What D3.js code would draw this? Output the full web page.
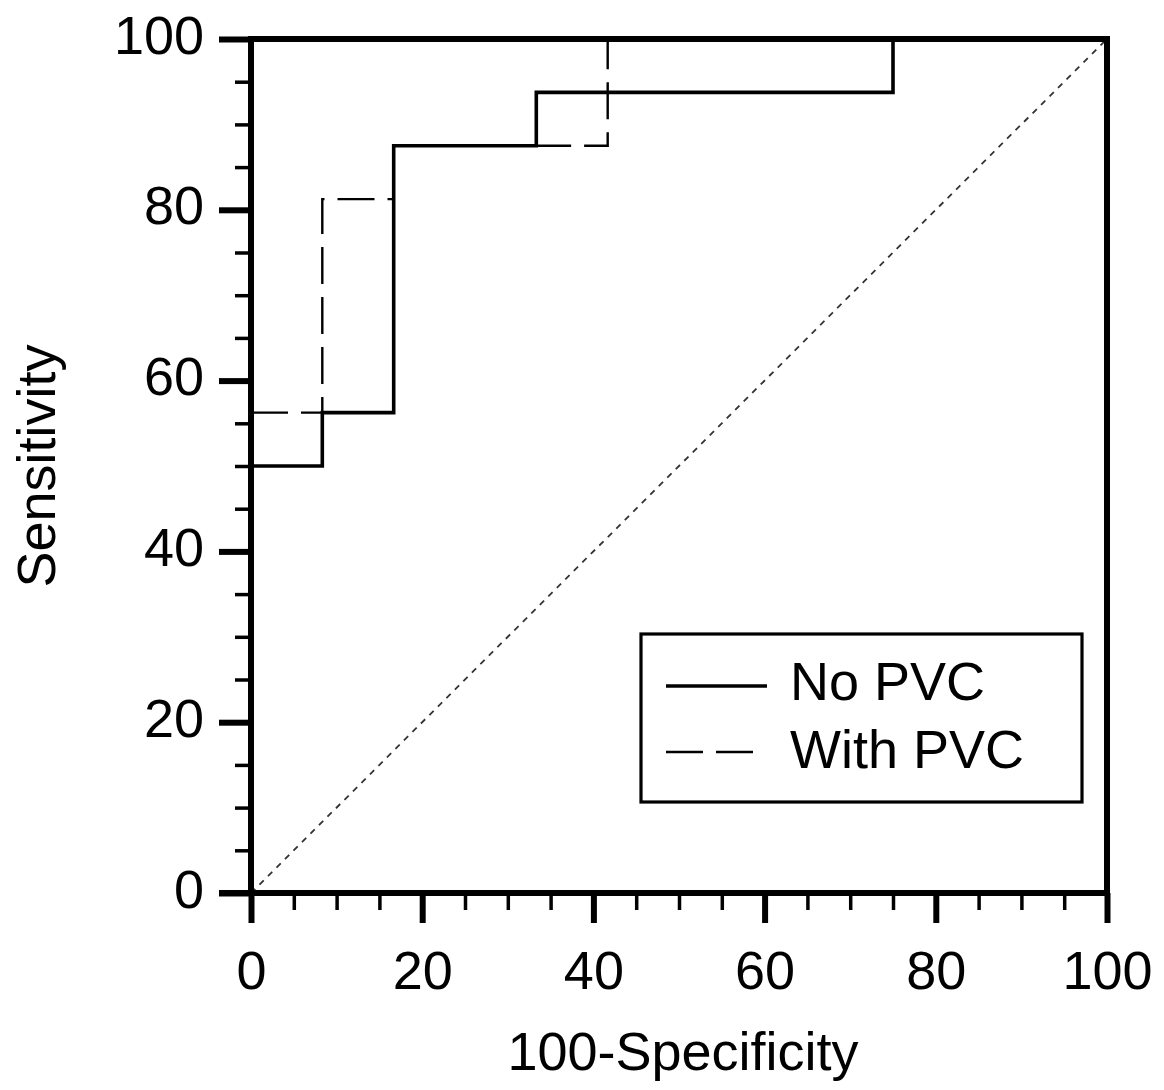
<!DOCTYPE html>
<html>
<head>
<meta charset="utf-8">
<script src="https://cdn.jsdelivr.net/npm/d3@7"></script>
<style>
  html, body { margin: 0; padding: 0; background: #fff; }
  svg { display: block; }
  text { font-family: "Liberation Sans", Arial, sans-serif; fill: #000; }
</style>
</head>
<body>
<svg id="chart" width="1164" height="1090"></svg>
<script>
// ---- Data ----
const seriesNames = ["No PVC", "With PVC"];
const noPvcX = [0, 8.33, 16.67, 33.33, 75, 100];
const noPvcY = [50, 56.25, 87.5, 93.75, 100, 100];
const withPvcX = [0, 8.33, 16.67, 41.67, 100];
const withPvcY = [56.25, 81.25, 87.5, 100, 100];
const majorTicks = [0, 20, 40, 60, 80, 100];
const minorTicks = [5, 10, 15, 25, 30, 35, 45, 50, 55, 65, 70, 75, 85, 90, 95];
const xTitle = "100-Specificity";
const yTitle = "Sensitivity";

// ---- Layout ----
const svg = d3.select("#chart");
const L = 251, R = 1107, T = 39, B = 893;
const x = d3.scaleLinear().domain([0, 100]).range([L, R]);
const y = d3.scaleLinear().domain([0, 100]).range([B, T]);
const FS = 54;

// diagonal reference
svg.append("line")
  .attr("x1", x(0)).attr("y1", y(0)).attr("x2", x(100)).attr("y2", y(100))
  .attr("stroke", "#333").attr("stroke-width", 1.8).attr("stroke-dasharray", "6,6");

// series
const line = d3.line().x(d => x(d[0])).y(d => y(d[1])).curve(d3.curveStepAfter);
const noPvc = noPvcX.map((v, i) => [v, noPvcY[i]]);
const withPvc = withPvcX.map((v, i) => [v, withPvcY[i]]);

svg.append("path").datum(withPvc).attr("d", line)
  .attr("fill", "none").attr("stroke", "#000").attr("stroke-width", 2.4)
  .attr("stroke-dasharray", "37,13");
svg.append("path").datum(noPvc).attr("d", line)
  .attr("fill", "none").attr("stroke", "#000").attr("stroke-width", 3.6);

// frame: top and right
svg.append("line").attr("x1", L).attr("x2", R + 3).attr("y1", T).attr("y2", T)
  .attr("stroke", "#000").attr("stroke-width", 6);
svg.append("line").attr("x1", R).attr("x2", R).attr("y1", T).attr("y2", B)
  .attr("stroke", "#000").attr("stroke-width", 6);

// y axis
const yAxisMajor = d3.axisLeft(y).tickValues(majorTicks).tickSize(32).tickPadding(14).tickFormat(d3.format("d"));
const gy = svg.append("g").attr("transform", `translate(${L},0)`).call(yAxisMajor);
gy.select(".domain").attr("stroke-width", 6).attr("d", `M0,${T - 3}V${B + 3}`);
gy.selectAll(".tick line").attr("stroke-width", 6);
gy.selectAll(".tick text").attr("font-size", FS).attr("dy", null).attr("dominant-baseline", null)
  .attr("x", -47).attr("y", 14).attr("font-family", "Liberation Sans, Arial, sans-serif");
const yMinor = d3.axisLeft(y).tickValues(minorTicks).tickSize(16).tickFormat("");
const gym = svg.append("g").attr("transform", `translate(${L},0)`).call(yMinor);
gym.select(".domain").remove();
gym.selectAll(".tick line").attr("stroke-width", 3.5);

// x axis
const xAxisMajor = d3.axisBottom(x).tickValues(majorTicks).tickSize(30).tickFormat(d3.format("d"));
const gx = svg.append("g").attr("transform", `translate(0,${B})`).call(xAxisMajor);
gx.select(".domain").attr("stroke-width", 6).attr("d", `M${L - 32},0H${R + 3}`);
gx.selectAll(".tick line").attr("stroke-width", 6);
gx.selectAll(".tick text").attr("font-size", FS).attr("dy", null)
  .attr("y", 96).attr("font-family", "Liberation Sans, Arial, sans-serif");
const xMinor = d3.axisBottom(x).tickValues(minorTicks).tickSize(17).tickFormat("");
const gxm = svg.append("g").attr("transform", `translate(0,${B})`).call(xMinor);
gxm.select(".domain").remove();
gxm.selectAll(".tick line").attr("stroke-width", 3.5);

// axis titles
svg.append("text").attr("x", (L + R) / 2 + 4).attr("y", 1070)
  .attr("text-anchor", "middle").attr("font-size", FS).text(xTitle);
svg.append("text").attr("transform", `translate(55,${(T + B) / 2}) rotate(-90)`)
  .attr("text-anchor", "middle").attr("font-size", FS).text(yTitle);

// legend
const lg = svg.append("g");
lg.append("rect").attr("x", 641).attr("y", 634).attr("width", 441).attr("height", 168)
  .attr("fill", "#fff").attr("stroke", "#000").attr("stroke-width", 3.2);
const legRows = [
  { name: seriesNames[0], y: 686, ty: 700, dash: null, w: 3.6, x2: 767 },
  { name: seriesNames[1], y: 752, ty: 768, dash: "37,13", w: 2.4, x2: 753 }
];
legRows.forEach(r => {
  lg.append("line").attr("x1", 666).attr("x2", r.x2).attr("y1", r.y).attr("y2", r.y)
    .attr("stroke", "#000").attr("stroke-width", r.w).attr("stroke-dasharray", r.dash);
  lg.append("text").attr("x", 790).attr("y", r.ty).attr("font-size", FS).text(r.name);
});
</script>
</body>
</html>
